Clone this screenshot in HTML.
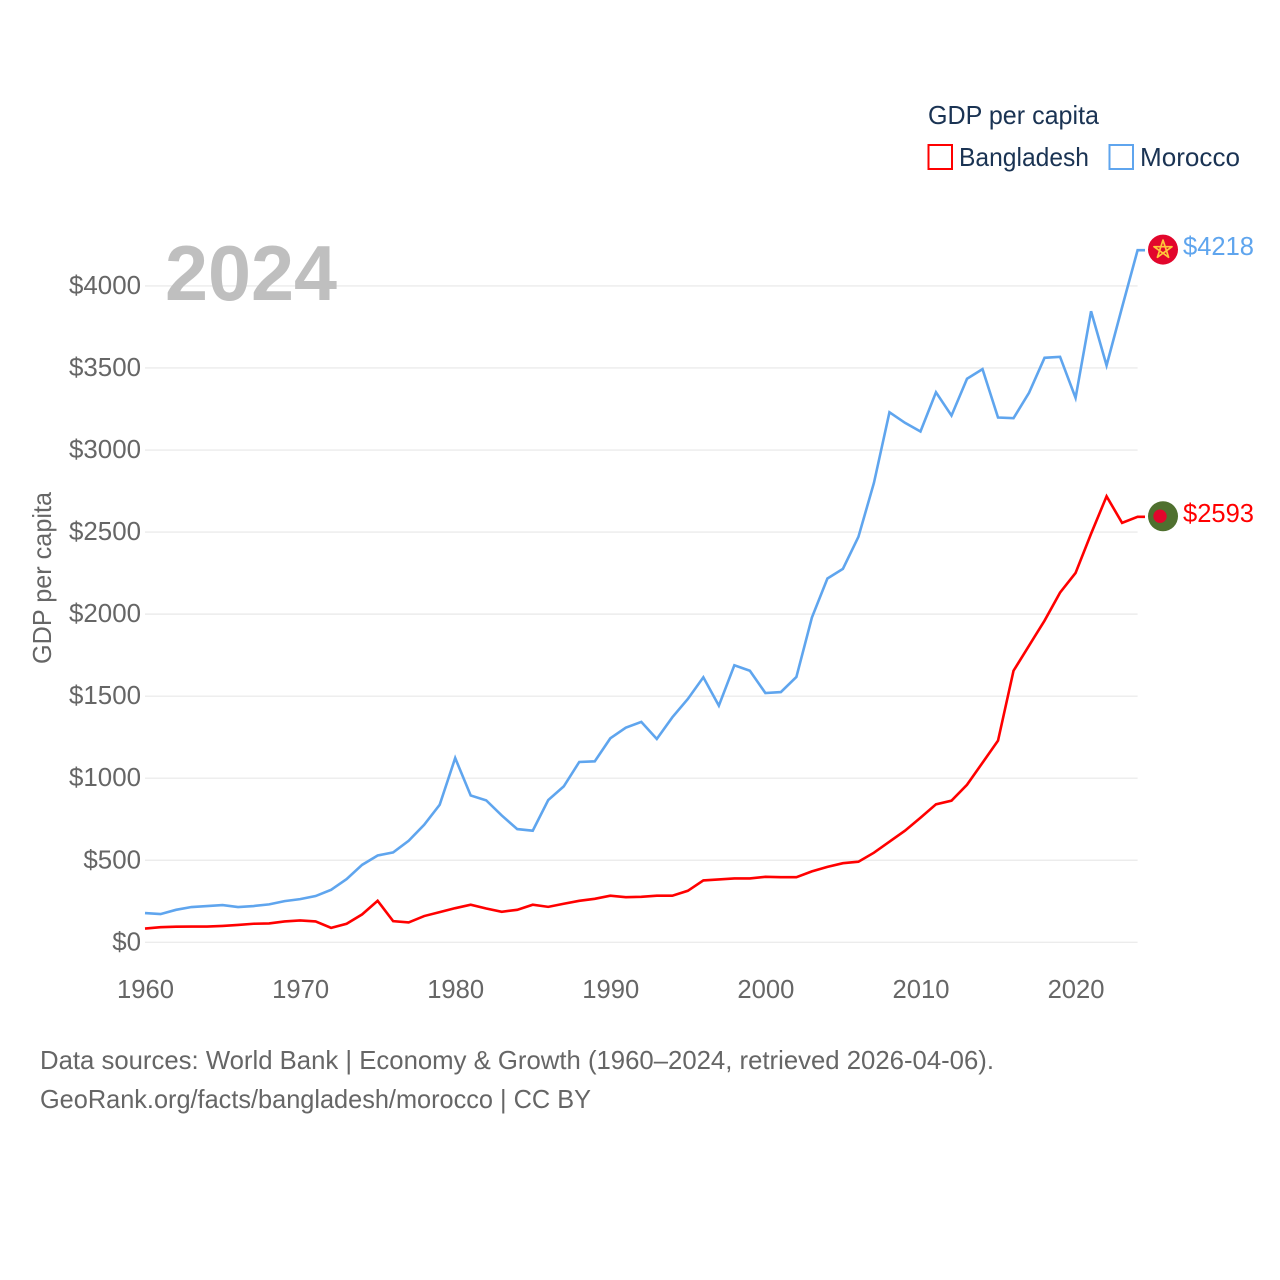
<!DOCTYPE html>
<html lang="en">
<head>
<meta charset="utf-8">
<title>GDP per capita: Bangladesh and Morocco</title>
<style>
  html, body { margin: 0; padding: 0; background: #ffffff; }
  svg { display: block; }
  text { font-family: "Liberation Sans", sans-serif; }
</style>
</head>
<body>
<svg id="chart" xmlns="http://www.w3.org/2000/svg" width="1280" height="1280" viewBox="0 0 1280 1280">
  <rect x="0" y="0" width="1280" height="1280" fill="#ffffff"/>
  <g id="grid"></g>
  <g id="y-ticks"></g>
  <g id="x-ticks"></g>

  <text x="165" y="300" font-size="78" font-weight="700" fill="#bfbfbf" textLength="172" lengthAdjust="spacingAndGlyphs">2024</text>
  <text transform="translate(51,664) rotate(-90)" font-size="26" fill="#666666" textLength="172" lengthAdjust="spacingAndGlyphs">GDP per capita</text>

  <g id="series"></g>

  <g id="flag-morocco">
    <circle cx="0" cy="0" r="15" fill="#e2062c"/>
    <polygon points="0,-9.5 5.6,7.7 -9,-2.9 9,-2.9 -5.6,7.7" fill="none" stroke="#ffc53a" stroke-width="1.7" stroke-linejoin="round"/>
  </g>
  <g id="flag-bangladesh">
    <circle cx="0" cy="0" r="15" fill="#4f702f"/>
    <circle cx="-3" cy="0" r="6.7" fill="#e2062c"/>
  </g>

  <g id="end-labels"></g>

  <g>
    <text x="928" y="124" font-size="26" fill="#1a3353" textLength="171" lengthAdjust="spacingAndGlyphs">GDP per capita</text>
    <g>
      <rect x="928.5" y="145" width="23.5" height="24" fill="#ffffff" stroke="#ff0000" stroke-width="2"/>
      <text x="959" y="166" font-size="26" fill="#1a3353" textLength="130" lengthAdjust="spacingAndGlyphs">Bangladesh</text>
    </g>
    <g>
      <rect x="1109.5" y="145" width="23.5" height="24" fill="#ffffff" stroke="#5fa5ee" stroke-width="2"/>
      <text x="1140" y="166" font-size="26" fill="#1a3353" textLength="100" lengthAdjust="spacingAndGlyphs">Morocco</text>
    </g>
  </g>

  <text x="40" y="1069" font-size="26" fill="#666666" textLength="954" lengthAdjust="spacingAndGlyphs">Data sources: World Bank | Economy &amp; Growth (1960–2024, retrieved 2026-04-06).</text>
  <text x="40" y="1108" font-size="26" fill="#666666" textLength="551" lengthAdjust="spacingAndGlyphs">GeoRank.org/facts/bangladesh/morocco | CC BY</text>
</svg>

<script>
const years = [1960,1961,1962,1963,1964,1965,1966,1967,1968,1969,
  1970,1971,1972,1973,1974,1975,1976,1977,1978,1979,
  1980,1981,1982,1983,1984,1985,1986,1987,1988,1989,
  1990,1991,1992,1993,1994,1995,1996,1997,1998,1999,
  2000,2001,2002,2003,2004,2005,2006,2007,2008,2009,
  2010,2011,2012,2013,2014,2015,2016,2017,2018,2019,
  2020,2021,2022,2023,2024];
const moroccoValues = [178,172,198,215,221,227,215,221,231,251,
  263,282,320,385,472,529,548,619,716,838,
  1123,895,865,773,690,680,867,950,1099,1103,
  1243,1308,1343,1239,1371,1483,1615,1442,1688,1655,
  1519,1525,1617,1979,2217,2276,2471,2800,3230,3166,
  3113,3352,3210,3434,3493,3198,3194,3349,3562,3568,
  3318,3846,3515,3870,4218];
const bangladeshValues = [84,92,95,96,96,100,106,113,115,127,
  133,127,88,113,170,253,129,121,160,184,
  208,229,206,186,198,229,216,235,253,265,
  284,275,277,284,284,314,377,383,389,389,
  399,397,397,432,460,482,491,546,613,680,
  759,841,863,960,1094,1229,1655,1808,1960,2131,
  2251,2490,2718,2556,2593];
const yTickValues = [0,500,1000,1500,2000,2500,3000,3500,4000];
const xTickValues = [1960,1970,1980,1990,2000,2010,2020];

const SVG_NS = 'http://www.w3.org/2000/svg';
const plotLeft = 145, plotRight = 1137.6, plotBottom = 942.3;
const pxPerDollar = 0.16409;
const xScale = year => plotLeft + (year - years[0]) * (plotRight - plotLeft) / (years[years.length - 1] - years[0]);
const yScale = value => plotBottom - value * pxPerDollar;

const gridGroup = document.getElementById('grid');
const yTickGroup = document.getElementById('y-ticks');
const xTickGroup = document.getElementById('x-ticks');
const seriesGroup = document.getElementById('series');
const endLabelGroup = document.getElementById('end-labels');

function make(tag, parent) {
  const el = document.createElementNS(SVG_NS, tag);
  parent.appendChild(el);
  return el;
}

yTickValues.forEach(value => {
  const line = make('line', gridGroup);
  
  
  line.setAttribute('x1', plotLeft);
  line.setAttribute('x2', plotRight);
  line.setAttribute('y1', yScale(value));
  line.setAttribute('y2', yScale(value));
  line.setAttribute('stroke', '#ececec');
  line.setAttribute('stroke-width', '1.4');

  const label = make('text', yTickGroup);
  
  
  const str = '$' + value;
  label.textContent = str;
  label.setAttribute('x', 141 - str.length * 14.4);
  label.setAttribute('y', yScale(value) + 8);
  label.setAttribute('font-size', '26');
  label.setAttribute('fill', '#666666');
  label.setAttribute('textLength', str.length * 14.4);
  label.setAttribute('lengthAdjust', 'spacingAndGlyphs');
});

xTickValues.forEach(year => {
  const label = make('text', xTickGroup);
  
  
  label.textContent = String(year);
  label.setAttribute('x', xScale(year) - 28);
  label.setAttribute('y', 998);
  label.setAttribute('font-size', '26');
  label.setAttribute('fill', '#666666');
  label.setAttribute('textLength', '57');
  label.setAttribute('lengthAdjust', 'spacingAndGlyphs');
});

function linePoints(values) {
  const pts = values.map((v, i) => xScale(years[i]).toFixed(2) + ',' + yScale(v).toFixed(2));
  pts.push('1145,' + yScale(values[values.length - 1]).toFixed(2));
  return pts.join(' ');
}

const moroccoLine = make('polyline', seriesGroup);


moroccoLine.setAttribute('points', linePoints(moroccoValues));
moroccoLine.setAttribute('fill', 'none');
moroccoLine.setAttribute('stroke', '#5fa5ee');
moroccoLine.setAttribute('stroke-width', '2.6');

const bangladeshLine = make('polyline', seriesGroup);


bangladeshLine.setAttribute('points', linePoints(bangladeshValues));
bangladeshLine.setAttribute('fill', 'none');
bangladeshLine.setAttribute('stroke', '#ff0000');
bangladeshLine.setAttribute('stroke-width', '2.6');

const moroccoLast = moroccoValues[moroccoValues.length - 1];
const bangladeshLast = bangladeshValues[bangladeshValues.length - 1];

document.getElementById('flag-morocco').setAttribute('transform', 'translate(1163,' + (yScale(moroccoLast) - 0.6) + ')');
document.getElementById('flag-bangladesh').setAttribute('transform', 'translate(1163,' + (yScale(bangladeshLast) - 0.6) + ')');

const moroccoEnd = make('text', endLabelGroup);


moroccoEnd.textContent = '$' + moroccoLast;
moroccoEnd.setAttribute('x', 1183);
moroccoEnd.setAttribute('y', yScale(moroccoLast) + 5);
moroccoEnd.setAttribute('font-size', '26');
moroccoEnd.setAttribute('fill', '#5fa5ee');
moroccoEnd.setAttribute('textLength', '71');
moroccoEnd.setAttribute('lengthAdjust', 'spacingAndGlyphs');

const bangladeshEnd = make('text', endLabelGroup);


bangladeshEnd.textContent = '$' + bangladeshLast;
bangladeshEnd.setAttribute('x', 1183);
bangladeshEnd.setAttribute('y', yScale(bangladeshLast) + 5);
bangladeshEnd.setAttribute('font-size', '26');
bangladeshEnd.setAttribute('fill', '#ff0000');
bangladeshEnd.setAttribute('textLength', '71');
bangladeshEnd.setAttribute('lengthAdjust', 'spacingAndGlyphs');
</script>
</body>
</html>
